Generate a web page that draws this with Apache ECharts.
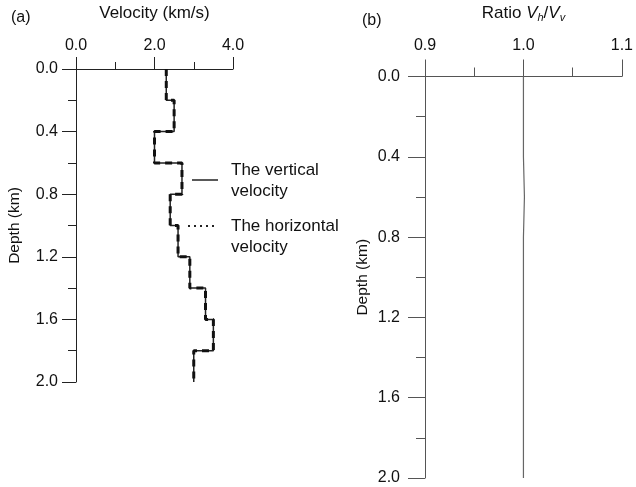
<!DOCTYPE html>
<html>
<head>
<meta charset="utf-8">
<script src="https://cdn.jsdelivr.net/npm/echarts@6/dist/echarts.min.js"></script>
<style>
  html, body { margin: 0; padding: 0; background: #fff; }
  #chart { width: 636px; height: 487px; }
</style>
</head>
<body>
<div id="chart"></div>
<script>
// layer tops (km), last layer ends at 2.0
var depthTop = [0, 0.2, 0.4, 0.6, 0.8, 1.0, 1.2, 1.4, 1.6, 1.8]
var depthBottom = 2.0
var vVertical = [2.3, 2.5, 2.0, 2.7, 2.4, 2.6, 2.9, 3.3, 3.5, 3.0]
var vHorizontal = [2.3, 2.5, 2.0, 2.7, 2.4, 2.6, 2.9, 3.3, 3.5, 3.0]
var ratio = [1.0, 1.0, 1.001, 1.0, 1.0, 1.0, 1.0, 1.0, 1.0, 1.0]

// turn layer values into a step profile [value, depth]
function profile(vals) {
  var pts = []
  for (var i = 0; i < vals.length; i++) {
    var bottom = i + 1 < depthTop.length ? depthTop[i + 1] : depthBottom
    pts.push([vals[i], depthTop[i]])
    pts.push([vals[i], bottom])
  }
  return pts
}

var font = 'Liberation Sans, Arial, Helvetica, sans-serif'
var tick = { color: '#111', fontSize: 16, fontFamily: font }
var head = { color: '#111', fontSize: 17, fontFamily: font }
var side = { color: '#111', fontSize: 15.5, fontFamily: font }
var dark = '#222'
var grey = '#555'
var fmt = function (v) { return v.toFixed(1) }

var chart = echarts.init(document.getElementById('chart'))
chart.setOption({
  animation: false,
  textStyle: { fontFamily: font },
  title: [
    { text: '(a)', left: 6, top: 5, textStyle: { fontSize: 16, fontWeight: 'normal', color: '#111', fontFamily: font } },
    { text: '(b)', left: 357, top: 8, textStyle: { fontSize: 16, fontWeight: 'normal', color: '#111', fontFamily: font } }
  ],
  grid: [
    { left: 76, top: 62, width: 157, height: 320 },
    { left: 425, top: 70, width: 200, height: 408 }
  ],
  // legend drawn by hand: the original has two-line labels with offset keys
  graphic: [
    { type: 'line', shape: { x1: 192, y1: 180, x2: 218, y2: 180 }, style: { stroke: dark, lineWidth: 1.5 } },
    { type: 'text', left: 231, top: 160, style: { text: 'The vertical\nvelocity', fontSize: 17, fontFamily: font, fill: '#111', lineHeight: 21 } },
    { type: 'line', shape: { x1: 188, y1: 226, x2: 218, y2: 226 }, style: { stroke: dark, lineWidth: 2, lineDash: [2, 4] } },
    { type: 'text', left: 231, top: 216, style: { text: 'The horizontal\nvelocity', fontSize: 17, fontFamily: font, fill: '#111', lineHeight: 21 } }
  ],
  xAxis: [
    {
      gridIndex: 0, type: 'value', position: 'top', min: 0, max: 4, interval: 2,
      name: 'Velocity (km/s)', nameLocation: 'middle', nameGap: 47,
      nameTextStyle: head,
      axisLine: { lineStyle: { color: dark, width: 1 } },
      axisTick: { length: 12, lineStyle: { color: dark } },
      minorTick: { show: true, splitNumber: 2, length: 7, lineStyle: { color: dark } },
      axisLabel: Object.assign({ margin: 15, formatter: fmt }, tick),
      splitLine: { show: false }
    },
    {
      gridIndex: 1, type: 'value', position: 'top', min: 0.9, max: 1.1, interval: 0.1,
      name: 'Ratio {i|V}{s|h}/{i|V}{s|v}', nameLocation: 'middle', nameGap: 53,
      nameTextStyle: Object.assign({
        rich: {
          i: { fontStyle: 'italic', fontSize: 17, color: '#111', fontFamily: font },
          s: { fontStyle: 'italic', fontSize: 11, color: '#111', fontFamily: font, padding: [9, 0, 0, 0] }
        }
      }, head),
      axisLine: { lineStyle: { color: grey, width: 1 } },
      axisTick: { length: 17, lineStyle: { color: grey } },
      minorTick: { show: true, splitNumber: 2, length: 9, lineStyle: { color: grey } },
      axisLabel: Object.assign({ margin: 23, formatter: fmt }, tick),
      splitLine: { show: false }
    }
  ],
  yAxis: [
    {
      gridIndex: 0, type: 'value', inverse: true, min: 0, max: 2, interval: 0.4,
      name: 'Depth (km)', nameLocation: 'middle', nameGap: 53, nameRotate: 90,
      nameTextStyle: side,
      axisLine: { show: true, lineStyle: { color: dark, width: 1 } },
      axisTick: { show: true, length: 14, lineStyle: { color: dark } },
      minorTick: { show: true, splitNumber: 2, length: 8, lineStyle: { color: dark } },
      axisLabel: Object.assign({ margin: 18, formatter: fmt }, tick),
      splitLine: { show: false }
    },
    {
      gridIndex: 1, type: 'value', inverse: true, min: 0, max: 2, interval: 0.4,
      name: 'Depth (km)', nameLocation: 'middle', nameGap: 54, nameRotate: 90,
      nameTextStyle: side,
      axisLine: { show: true, lineStyle: { color: grey, width: 1 } },
      axisTick: { show: true, length: 17, lineStyle: { color: grey } },
      minorTick: { show: true, splitNumber: 2, length: 9, lineStyle: { color: grey } },
      axisLabel: Object.assign({ margin: 25, formatter: fmt }, tick),
      splitLine: { show: false }
    }
  ],
  series: [
    {
      name: 'vertical', type: 'line', xAxisIndex: 0, yAxisIndex: 0,
      data: profile(vVertical), showSymbol: false, symbol: 'none',
      lineStyle: { color: dark, width: 1.5 }
    },
    {
      name: 'horizontal', type: 'line', xAxisIndex: 0, yAxisIndex: 0,
      data: profile(vHorizontal), showSymbol: false, symbol: 'none',
      lineStyle: { color: '#111', width: 3, type: [7, 5] }
    },
    {
      name: 'ratio', type: 'line', xAxisIndex: 1, yAxisIndex: 1,
      data: profile(ratio), showSymbol: false, symbol: 'none',
      lineStyle: { color: '#666', width: 1.2 }
    }
  ]
})
</script>
</body>
</html>
